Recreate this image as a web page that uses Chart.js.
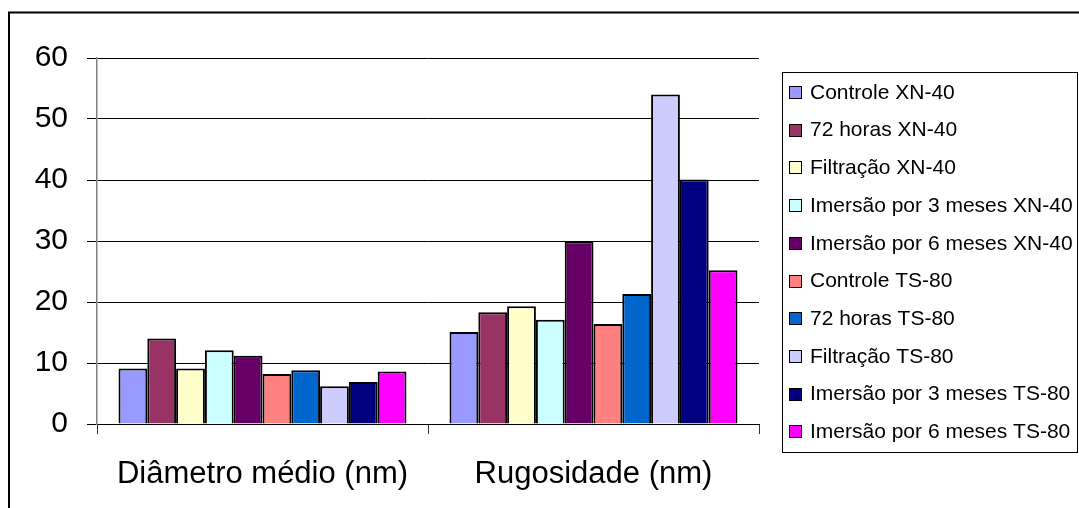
<!DOCTYPE html>
<html>
<head>
<meta charset="utf-8">
<script src="https://cdn.jsdelivr.net/npm/chart.js@4/dist/chart.umd.min.js"></script>
<style>
  html, body { margin: 0; padding: 0; background: #fff; }
  canvas { display: block; }
</style>
</head>
<body>
<canvas id="c" width="1079" height="508"></canvas>
<script>
// Measured groups
const categories = ['Diâmetro médio (nm)', 'Rugosidade (nm)'];

// Series (one per sample / treatment)
const seriesNames = [
  'Controle XN-40',
  '72 horas XN-40',
  'Filtração XN-40',
  'Imersão por 3 meses XN-40',
  'Imersão por 6 meses XN-40',
  'Controle TS-80',
  '72 horas TS-80',
  'Filtração TS-80',
  'Imersão por 3 meses TS-80',
  'Imersão por 6 meses TS-80'
];

// Values per series: [diâmetro médio, rugosidade]
const controleXN   = [9.1, 15.1];
const horas72XN    = [14.0, 18.3];
const filtracaoXN  = [9.1, 19.3];
const imersao3XN   = [12.1, 17.1];
const imersao6XN   = [11.2, 29.9];
const controleTS   = [8.2, 16.4];
const horas72TS    = [8.8, 21.3];
const filtracaoTS  = [6.2, 54.0];
const imersao3TS   = [6.9, 40.1];
const imersao6TS   = [8.6, 25.2];

const seriesValues = [
  controleXN, horas72XN, filtracaoXN, imersao3XN, imersao6XN,
  controleTS, horas72TS, filtracaoTS, imersao3TS, imersao6TS
];

const seriesColors = [
  '#9999FF', '#993366', '#FFFFCC', '#CCFFFF', '#660066',
  '#FF8080', '#0066CC', '#CCCCFF', '#000080', '#FF00FF'
];

// Y axis ticks
const yTicks = [0, 10, 20, 30, 40, 50, 60];

const FONT = '"Liberation Sans", Arial, sans-serif';

// White background and the frame around the chart
const framePlugin = {
  id: 'frame',
  beforeDraw(chart) {
    const ctx = chart.ctx;
    ctx.save();
    ctx.fillStyle = '#fff';
    ctx.fillRect(0, 0, chart.width, chart.height);
    ctx.strokeStyle = '#000';
    ctx.lineWidth = 2;
    ctx.beginPath();
    ctx.moveTo(9, chart.height + 2);
    ctx.lineTo(9, 12.5);
    ctx.lineTo(chart.width + 2, 12.5);
    ctx.stroke();
    ctx.restore();
  }
};

// Boxed legend on the right
const boxLegendPlugin = {
  id: 'boxLegend',
  afterDraw(chart) {
    const ctx = chart.ctx;
    const box = { x: 782, y: 72, w: 296, h: 380 };
    ctx.save();
    ctx.fillStyle = '#fff';
    ctx.fillRect(box.x, box.y, box.w, box.h);
    ctx.strokeStyle = '#000';
    ctx.lineWidth = 1;
    ctx.strokeRect(box.x + 0.5, box.y + 0.5, box.w - 1, box.h);
    ctx.font = '21px ' + FONT;
    ctx.textBaseline = 'middle';
    ctx.textAlign = 'left';
    chart.data.datasets.forEach((ds, i) => {
      const cy = 92 + i * 37.7;
      ctx.fillStyle = ds.backgroundColor;
      ctx.fillRect(789.5, Math.round(cy - 6) + 0.5, 12, 12);
      ctx.strokeStyle = '#000';
      ctx.strokeRect(789.5, Math.round(cy - 6) + 0.5, 12, 12);
      ctx.fillStyle = '#000';
      ctx.fillText(ds.label, 810, cy + 1);
    });
    ctx.restore();
  }
};

const datasets = seriesNames.map((name, i) => ({
  label: name,
  data: seriesValues[i],
  backgroundColor: seriesColors[i],
  borderColor: '#000',
  borderWidth: 2,
  categoryPercentage: 0.87,
  barPercentage: 1.0
}));

new Chart(document.getElementById('c'), {
  type: 'bar',
  data: { labels: categories, datasets },
  plugins: [framePlugin, boxLegendPlugin],
  options: {
    responsive: false,
    devicePixelRatio: 1,
    animation: false,
    layout: { padding: { left: 0, top: 58, right: 320, bottom: 0 } },
    plugins: {
      legend: { display: false },
      tooltip: { enabled: false }
    },
    scales: {
      x: {
        offset: true,
        grid: {
          offset: true,
          drawOnChartArea: false,
          drawTicks: true,
          tickLength: 10,
          color: '#333'
        },
        border: { display: true, color: '#000', width: 1 },
        ticks: {
          color: '#000',
          font: { family: FONT, size: 31 },
          padding: 22,
          maxRotation: 0,
          autoSkip: false
        },
        afterFit(scale) { scale.height = 84; }
      },
      y: {
        min: 0,
        max: 60,
        afterBuildTicks(scale) { scale.ticks = yTicks.map(v => ({ value: v })); },
        grid: {
          color: '#000',
          lineWidth: 1,
          drawTicks: true,
          tickLength: 10
        },
        border: { display: true, color: '#808080', width: 1.5 },
        ticks: {
          color: '#000',
          font: { family: FONT, size: 30 },
          padding: 19
        },
        afterFit(scale) { scale.width = 97; }
      }
    }
  }
});
</script>
</body>
</html>
